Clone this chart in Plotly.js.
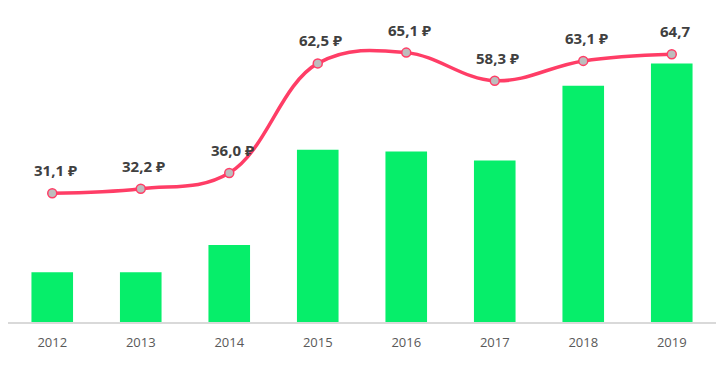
<!DOCTYPE html>
<html>
<head>
<meta charset="utf-8">
<script src="https://cdn.plot.ly/plotly-3.0.1.min.js"></script>
<style>html,body{margin:0;padding:0;background:#fff;}#chart{width:725px;height:377px;}</style>
</head>
<body>
<div id="chart"></div>
<script>
const years = ['2012','2013','2014','2015','2016','2017','2018','2019'];
const barValues = [12.0, 12.0, 18.6, 41.6, 41.2, 39.0, 57.1, 62.5];
const lineValues = [31.1, 32.2, 36.0, 62.5, 65.1, 58.3, 63.1, 64.7];
const lineLabels = ['31,1 ₽','32,2 ₽','36,0 ₽','62,5 ₽','65,1 ₽','58,3 ₽','63,1 ₽','64,7'];

const xIdx = years.map((_, i) => i);

const bars = {
  type: 'bar', x: xIdx, y: barValues,
  marker: {color: '#06EE6A'}, width: 0.47,
  hoverinfo: 'skip'
};
const line = {
  type: 'scatter', mode: 'lines+markers', x: xIdx, y: lineValues,
  line: {color: '#FF3D66', width: 3.5, shape: 'spline', smoothing: 1.1},
  marker: {size: 9, color: '#BDBDBD', line: {color: '#FF3D66', width: 1.5}},
  hoverinfo: 'skip'
};
const annotations = xIdx.map(i => ({
  x: i, y: lineValues[i], text: lineLabels[i], showarrow: false,
  xshift: 3, yshift: 23,
  font: {family: 'Open Sans, Noto Sans, DejaVu Sans', size: 15, color: '#404040', weight: 'bold'}
}));

const layout = {
  width: 725, height: 377,
  margin: {l: 8, r: 9, t: 22, b: 55},
  paper_bgcolor: '#fff', plot_bgcolor: '#fff',
  showlegend: false,
  xaxis: {
    range: [-0.5, 7.5], tickmode: 'array', tickvals: xIdx, ticktext: years,
    showgrid: false, zeroline: false,
    showline: true, linecolor: '#D9D9D9', linewidth: 2,
    ticks: '', ticklabelstandoff: 7,
    tickfont: {family: 'Open Sans, Noto Sans', size: 13, color: '#595959'}
  },
  yaxis: {
    range: [0, 72.5], visible: false, showgrid: false, zeroline: false, fixedrange: true
  },
  annotations: annotations
};
Plotly.newPlot('chart', [bars, line], layout, {displayModeBar: false, staticPlot: true});
</script>
</body>
</html>
